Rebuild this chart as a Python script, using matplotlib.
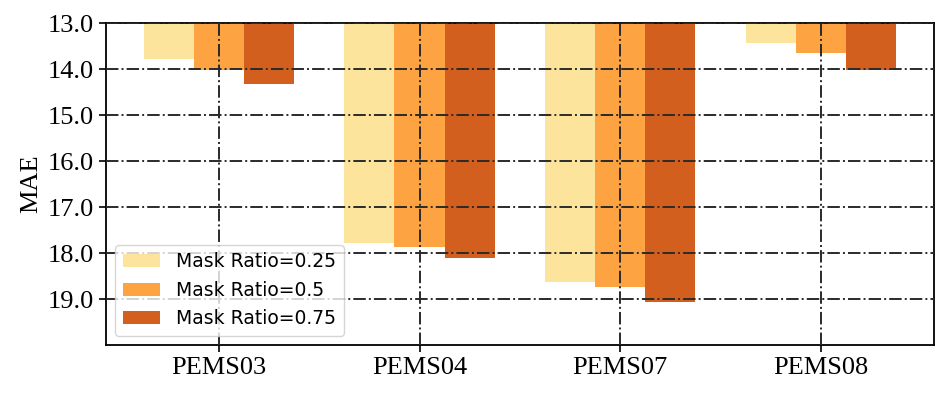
import numpy as np
import matplotlib
matplotlib.use("Agg")
import matplotlib.pyplot as plt

# Datos
datasets = ["PEMS03", "PEMS04", "PEMS07", "PEMS08"]
mae_025 = [13.79, 17.78, 18.63, 13.43]
mae_050 = [14.01, 17.87, 18.74, 13.65]
mae_075 = [14.33, 18.11, 19.07, 14.02]
series_labels = ["Mask Ratio=0.25", "Mask Ratio=0.5", "Mask Ratio=0.75"]
colors = ["#fde49c", "#fea341", "#d25f1d"]
yticks = [13.0, 14.0, 15.0, 16.0, 17.0, 18.0, 19.0]

plt.rcParams["font.family"] = ["Liberation Serif", "DejaVu Serif"]

fig = plt.figure(figsize=(9.47, 3.98), dpi=100)
ax = fig.add_axes([0.112, 0.133, 0.874, 0.809])

x = np.arange(len(datasets))
width = 0.25
for i, (vals, lab, c) in enumerate(zip([mae_025, mae_050, mae_075], series_labels, colors)):
    ax.bar(x + (i - 1) * width, vals, width, label=lab, color=c)

ax.set_ylim(20.0, 13.0)
ax.set_yticks(yticks)
ax.set_yticklabels([f"{v:.1f}" for v in yticks], fontsize=19)
ax.set_xticks(x)
ax.set_xticklabels(datasets, fontsize=19)
ax.set_ylabel("MAE", fontsize=19)

ax.set_axisbelow(False)
ax.grid(True, linestyle="-.", color="#2a2a2a", linewidth=1.4)
for s in ax.spines.values():
    s.set_linewidth(1.3)
ax.tick_params(width=1.2, length=5)

ax.legend(loc="lower left", prop={"family": "DejaVu Sans", "size": 13.5},
          handlelength=2.0, handletextpad=0.85, borderaxespad=0.5)

fig.savefig("out.png", dpi=100)
